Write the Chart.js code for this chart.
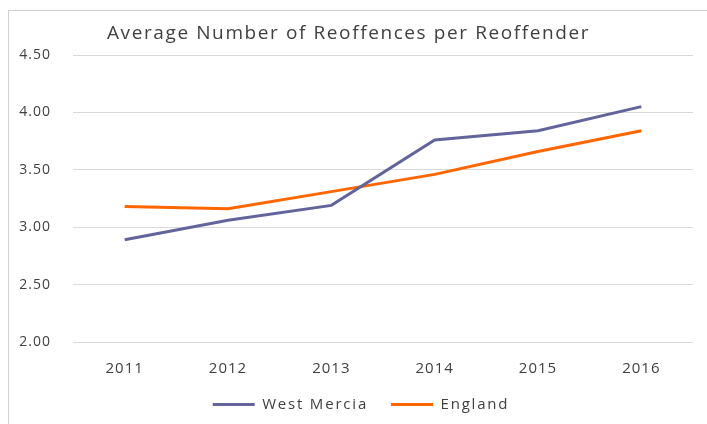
<!DOCTYPE html>
<html>
<head>
<meta charset="utf-8">
<script src="https://cdn.jsdelivr.net/npm/chart.js@4/dist/chart.umd.min.js"></script>
<style>
  html, body { margin: 0; padding: 0; background: #fff; }
  #frame { position: absolute; left: 8px; top: 10px; width: 720px; height: 430px; border: 1px solid #d0d0d0; box-sizing: border-box; }
  #box { position: absolute; left: 0; top: 0; width: 707px; height: 424px; }
</style>
</head>
<body>
<div id="frame"></div>
<div id="box"><canvas id="reoffChart" width="707" height="424"></canvas></div>
<script>
// Gennemsnitligt antal genforbrydelser pr. genforbryder
const chartTitle = 'Average Number of Reoffences per Reoffender';
const years = ['2011', '2012', '2013', '2014', '2015', '2016'];
const westMercia = [2.89, 3.06, 3.19, 3.76, 3.84, 4.05];
const england = [3.18, 3.16, 3.31, 3.46, 3.66, 3.84];
const yTicks = [2.0, 2.5, 3.0, 3.5, 4.0, 4.5];

const textColor = '#404040';
const fontFamily = '"Open Sans", "Liberation Sans", sans-serif';

// Excel-agtig spatiering af teksten, og forklaringen rykket lidt til højre
const spacingPlugin = {
  id: 'spacing',
  afterInit(chart) {
    const legend = chart.legend;
    const origUpdate = legend.update.bind(legend);
    const origDraw = legend.draw.bind(legend);
    legend.update = (...args) => {
      chart.ctx.save();
      chart.ctx.letterSpacing = '1.8px';
      origUpdate(...args);
      chart.ctx.restore();
      legend.height = 50;
      legend.bottom = legend.top + 50;
    };
    legend.draw = (...args) => {
      chart.ctx.save();
      chart.ctx.letterSpacing = '1.8px';
      chart.ctx.translate(6, 0);
      origDraw(...args);
      chart.ctx.restore();
    };
  },
  beforeLayout(chart) {
    chart.ctx.letterSpacing = '1px';
  },
  beforeDraw(chart) {
    chart.ctx.letterSpacing = '1px';
  },
  afterDraw(chart) {
    const ctx = chart.ctx;
    ctx.save();
    ctx.letterSpacing = '1.6px';
    ctx.font = `19px ${fontFamily}`;
    ctx.fillStyle = textColor;
    ctx.textBaseline = 'alphabetic';
    ctx.textAlign = 'left';
    ctx.fillText(chartTitle, 107, 39);
    ctx.restore();
  }
};

const ctx = document.getElementById('reoffChart');
new Chart(ctx, {
  type: 'line',
  data: {
    labels: years,
    datasets: [
      {
        label: 'West Mercia',
        data: westMercia,
        borderColor: '#64649c',
        backgroundColor: '#64649c',
        borderWidth: 3,
        pointRadius: 0,
        fill: false,
      },
      {
        label: 'England',
        data: england,
        borderColor: '#ff6600',
        backgroundColor: '#ff6600',
        borderWidth: 3,
        pointRadius: 0,
        fill: false,
      }
    ]
  },
  options: {
    responsive: false,
    animation: false,
    layout: { padding: { left: 17, right: 14, top: 55, bottom: 0 } },
    plugins: {
      title: { display: false },
      tooltip: { enabled: false },
      legend: {
        position: 'bottom',
        labels: {
          boxWidth: 42,
          boxHeight: 3,
          padding: 23,
          color: textColor,
          font: { family: fontFamily, size: 15 },
          generateLabels(chart) {
            return Chart.defaults.plugins.legend.labels.generateLabels(chart)
              .map((item) => ({ ...item, lineWidth: 0 }));
          }
        }
      }
    },
    scales: {
      x: {
        offset: true,
        grid: { display: false, drawTicks: false },
        border: { display: false },
        afterFit(scale) {
          scale.height = 32;
        },
        ticks: {
          color: textColor,
          padding: 18,
          font: { family: fontFamily, size: 15 },
        }
      },
      y: {
        min: yTicks[0],
        max: yTicks[yTicks.length - 1],
        afterBuildTicks(scale) {
          scale.ticks = yTicks.map((v) => ({ value: v }));
        },
        afterFit(scale) {
          scale.width = 56;
        },
        grid: { color: '#d9d9d9', drawTicks: false, lineWidth: 1 },
        border: { display: false },
        ticks: {
          color: textColor,
          padding: 22,
          font: { family: fontFamily, size: 14 },
          callback(value) {
            return Number(value).toFixed(2);
          }
        }
      }
    }
  },
  plugins: [spacingPlugin]
});
</script>
</body>
</html>
